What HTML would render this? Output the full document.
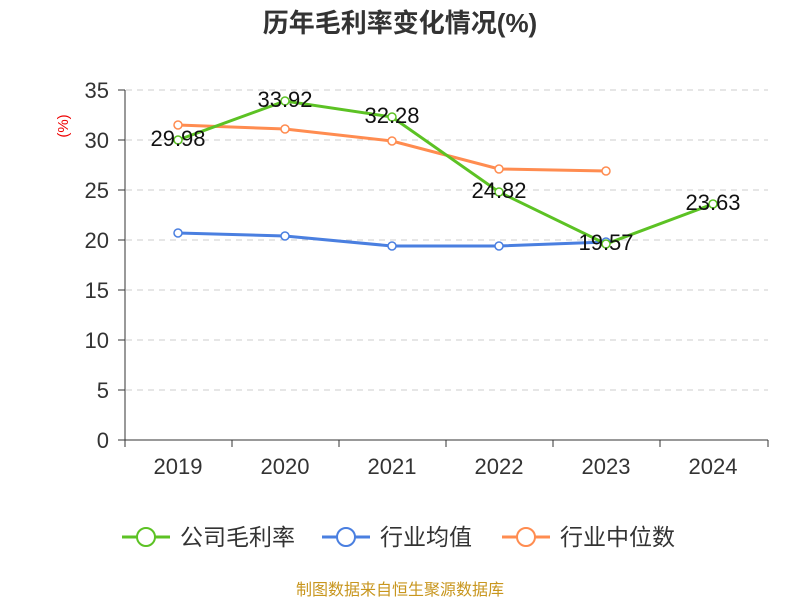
<!DOCTYPE html>
<html><head><meta charset="utf-8"><style>
body{margin:0;background:#fff;}
svg text{font-family:"Liberation Sans","Noto Sans CJK SC",sans-serif;}
</style></head><body>
<svg width="800" height="600" xmlns="http://www.w3.org/2000/svg">
<text x="400" y="32" text-anchor="middle" font-size="26" font-weight="bold" fill="#333">历年毛利率变化情况(%)</text>
<text x="68" y="126" font-size="15" fill="#e00" transform="rotate(-90 68 126)" text-anchor="middle">(%)</text>
<g stroke="#ccc" stroke-dasharray="6,5" stroke-width="1">
<line x1="126" x2="768" y1="90" y2="90"/><line x1="126" x2="768" y1="140" y2="140"/>
<line x1="126" x2="768" y1="190" y2="190"/><line x1="126" x2="768" y1="240" y2="240"/>
<line x1="126" x2="768" y1="290" y2="290"/><line x1="126" x2="768" y1="340" y2="340"/>
<line x1="126" x2="768" y1="390" y2="390"/>
</g>
<g stroke="#333" stroke-width="1">
<line x1="125" x2="125" y1="90" y2="440"/><line x1="125" x2="768" y1="440" y2="440"/>
<line x1="118" x2="125" y1="90" y2="90"/><line x1="118" x2="125" y1="140" y2="140"/><line x1="118" x2="125" y1="190" y2="190"/><line x1="118" x2="125" y1="240" y2="240"/><line x1="118" x2="125" y1="290" y2="290"/><line x1="118" x2="125" y1="340" y2="340"/><line x1="118" x2="125" y1="390" y2="390"/><line x1="118" x2="125" y1="440" y2="440"/>
<line x1="125" x2="125" y1="440" y2="447"/><line x1="232" x2="232" y1="440" y2="447"/><line x1="339" x2="339" y1="440" y2="447"/><line x1="446" x2="446" y1="440" y2="447"/><line x1="553" x2="553" y1="440" y2="447"/><line x1="660" x2="660" y1="440" y2="447"/><line x1="768" x2="768" y1="440" y2="447"/>
</g>
<g font-size="22" fill="#333" text-anchor="end">
<text x="109" y="98">35</text><text x="109" y="148">30</text><text x="109" y="198">25</text><text x="109" y="248">20</text><text x="109" y="298">15</text><text x="109" y="348">10</text><text x="109" y="398">5</text><text x="109" y="448">0</text>
</g>
<g font-size="22" fill="#333" text-anchor="middle">
<text x="178" y="474">2019</text><text x="285" y="474">2020</text><text x="392" y="474">2021</text><text x="499" y="474">2022</text><text x="606" y="474">2023</text><text x="713" y="474">2024</text>
</g>
<polyline fill="none" stroke="#4a7fe0" stroke-width="3" points="178,233 285,236 392,246 499,246 606,242"/>
<polyline fill="none" stroke="#ff8c50" stroke-width="3" points="178,125 285,129 392,141 499,169 606,171"/>
<polyline fill="none" stroke="#5cc224" stroke-width="3" points="178,140 285,101 392,117 499,192 606,244 713,204"/>
<g fill="#fff" stroke-width="1.5">
<g stroke="#4a7fe0"><circle cx="178" cy="233" r="4"/><circle cx="285" cy="236" r="4"/><circle cx="392" cy="246" r="4"/><circle cx="499" cy="246" r="4"/><circle cx="606" cy="242" r="4"/></g>
<g stroke="#ff8c50"><circle cx="178" cy="125" r="4"/><circle cx="285" cy="129" r="4"/><circle cx="392" cy="141" r="4"/><circle cx="499" cy="169" r="4"/><circle cx="606" cy="171" r="4"/></g>
<g stroke="#5cc224"><circle cx="178" cy="140" r="4"/><circle cx="285" cy="101" r="4"/><circle cx="392" cy="117" r="4"/><circle cx="499" cy="192" r="4"/><circle cx="606" cy="244" r="4"/><circle cx="713" cy="204" r="4"/></g>
</g>
<g font-size="22" fill="#111" text-anchor="middle">
<text x="178" y="146">29.98</text><text x="285" y="107">33.92</text><text x="392" y="123">32.28</text><text x="499" y="198">24.82</text><text x="606" y="250">19.57</text><text x="713" y="210">23.63</text>
</g>
<g stroke-width="3" fill="#fff">
<line x1="122" x2="170" y1="537" y2="537" stroke="#5cc224"/><circle cx="146" cy="537" r="9" stroke="#5cc224" stroke-width="2"/>
<line x1="322" x2="370" y1="537" y2="537" stroke="#4a7fe0"/><circle cx="346" cy="537" r="9" stroke="#4a7fe0" stroke-width="2"/>
<line x1="502" x2="550" y1="537" y2="537" stroke="#ff8c50"/><circle cx="526" cy="537" r="9" stroke="#ff8c50" stroke-width="2"/>
</g>
<g font-size="23" fill="#333">
<text x="180" y="545">公司毛利率</text><text x="380" y="545">行业均值</text><text x="560" y="545">行业中位数</text>
</g>
<text x="400" y="595" text-anchor="middle" font-size="16" fill="#c8961e">制图数据来自恒生聚源数据库</text>
</svg>
</body></html>
